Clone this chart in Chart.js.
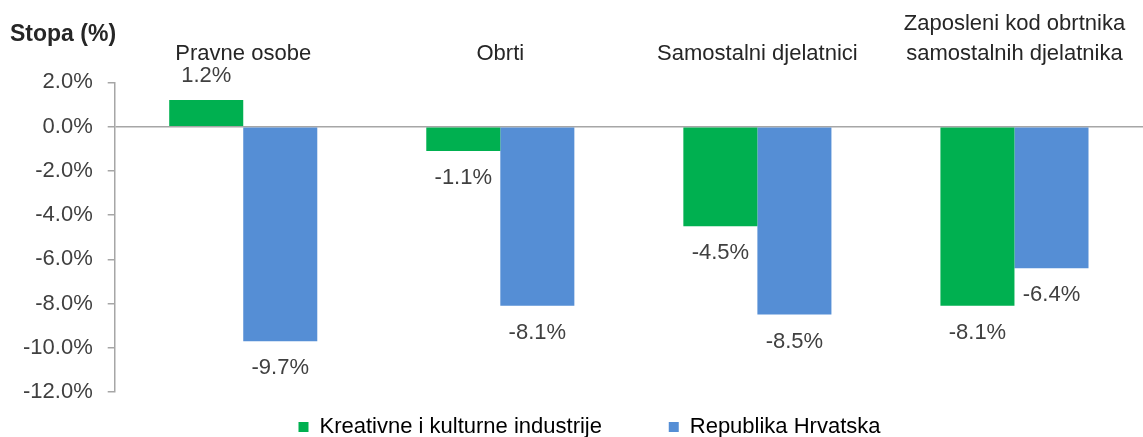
<!DOCTYPE html>
<html>
<head>
<meta charset="utf-8">
<script src="https://cdn.jsdelivr.net/npm/chart.js@4"></script>
<style>
  html, body { margin: 0; padding: 0; background: #fff; }
  #wrap { position: relative; width: 1143px; height: 437px; }
  #ytitle { position: absolute; left: 10px; top: 20px; font: bold 23px "Liberation Sans", Arial, sans-serif; color: #262626; }
</style>
</head>
<body>
<div id="wrap">
  <canvas id="chart" width="1143" height="437"></canvas>
  <div id="ytitle">Stopa (%)</div>
</div>
<script>
const categories = [
    'Pravne osobe',
    'Obrti',
    'Samostalni djelatnici',
    ['Zaposleni kod obrtnika', 'samostalnih djelatnika']
];
const kreativne = [1.2, -1.1, -4.5, -8.1];
const hrvatska = [-9.7, -8.1, -8.5, -6.4];
const seriesNames = ['Kreativne i kulturne industrije', 'Republika Hrvatska'];
const yTicks = [2, 0, -2, -4, -6, -8, -10, -12];

const font = '"Liberation Sans", Arial, sans-serif';
const green = '#00B050';
const blue = '#558ED5';

// value labels on bar ends
const valueLabels = {
    id: 'valueLabels',
    afterDatasetsDraw(chart) {
        const ctx = chart.ctx;
        ctx.save();
        ctx.font = '22px ' + font;
        ctx.fillStyle = '#404040';
        ctx.textAlign = 'center';
        ctx.textBaseline = 'middle';
        chart.data.datasets.forEach((ds, i) => {
            chart.getDatasetMeta(i).data.forEach((bar, j) => {
                const v = ds.data[j];
                const y = v >= 0 ? bar.y - 24 : bar.y + 27;
                ctx.fillText(v.toFixed(1) + '%', bar.x, y);
            });
        });
        ctx.restore();
    }
};

// nudge the legend a bit to the right, like the original
const legendShift = {
    id: 'legendShift',
    afterLayout(chart) {
        chart.legend.left += 14;
        chart.legend.right += 14;
    }
};

new Chart(document.getElementById('chart'), {
    type: 'bar',
    data: {
        labels: categories,
        datasets: [
            { label: seriesNames[0], data: kreativne, backgroundColor: green },
            { label: seriesNames[1], data: hrvatska, backgroundColor: blue }
        ]
    },
    options: {
        responsive: false,
        animation: false,
        categoryPercentage: 0.576,
        barPercentage: 1,
        layout: { padding: { left: 8, right: 0, top: -5, bottom: -11 } },
        scales: {
            x: {
                position: 'top',
                grid: { display: false, drawTicks: false },
                border: { display: false },
                ticks: {
                    color: '#262626',
                    padding: 14,
                    maxRotation: 0,
                    autoSkip: false,
                    font: { family: font, size: 22, lineHeight: 1.35 }
                }
            },
            y: {
                min: -12,
                max: 2,
                afterBuildTicks: (axis) => { axis.ticks = yTicks.map(v => ({ value: v })); },
                grid: {
                    color: (c) => c.tick && c.tick.value === 0 ? '#a6a6a6' : 'transparent',
                    lineWidth: 1.5,
                    tickColor: '#a6a6a6',
                    tickLength: 7
                },
                border: { display: true, color: '#a6a6a6', width: 1.5 },
                ticks: {
                    color: '#404040',
                    padding: 15,
                    font: { family: font, size: 22 },
                    callback: (v) => v.toFixed(1) + '%'
                }
            }
        },
        plugins: {
            tooltip: { enabled: false },
            legend: {
                position: 'bottom',
                labels: {
                    color: '#262626',
                    boxWidth: 10,
                    boxHeight: 10,
                    padding: 24,
                    font: { family: font, size: 22 },
                    generateLabels: (chart) => chart.data.datasets.map((ds, i) => ({
                        text: i === 0 ? ds.label + '\u00a0'.repeat(7) : ds.label,
                        fillStyle: ds.backgroundColor,
                        strokeStyle: ds.backgroundColor,
                        lineWidth: 0,
                        hidden: false,
                        datasetIndex: i
                    }))
                }
            }
        }
    },
    plugins: [valueLabels, legendShift]
});
</script>
</body>
</html>
